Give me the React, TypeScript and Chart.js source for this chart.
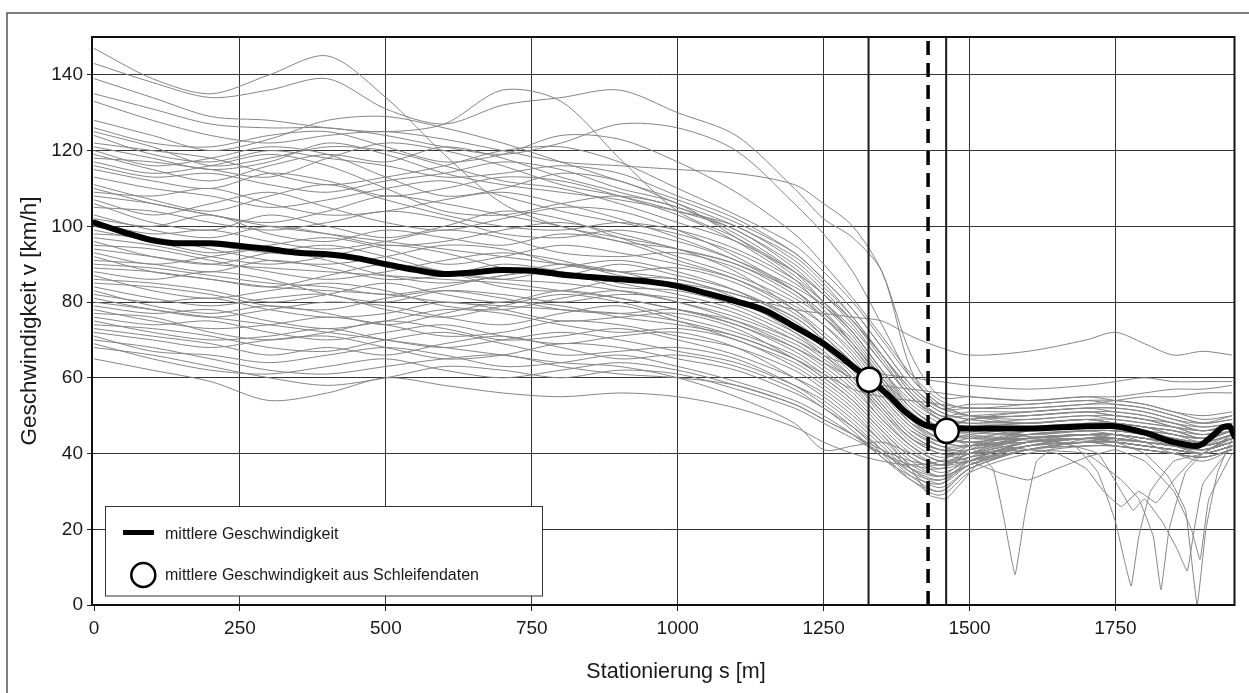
import React, { useEffect, useRef } from "react";
import { Chart, registerables } from "chart.js";

Chart.register(...registerables);

const W = 1249;
const H = 693;

const xTickValues = [0, 250, 500, 750, 1000, 1250, 1500, 1750];
const yTickValues = [0, 20, 40, 60, 80, 100, 120, 140];

const stations = [0, 100, 200, 300, 400, 500, 600, 700, 800, 900, 1000, 1100, 1200, 1250, 1300, 1350, 1400, 1450, 1500, 1600, 1700, 1750, 1800, 1850, 1900, 1950];

const runs: number[][] = [
  [147, 139, 135, 140, 145, 134, 119, 106, 100, 97, 94, 88, 78, 71, 64, 57, 50, 46, 49, 51, 52, 52, 51, 49, 48, 50],
  [143, 138, 134, 136, 139, 131, 127, 132, 134, 136, 130, 124, 110, 102, 97, 88, 62, 52, 52, 52, 53, 53, 52, 50, 48, 49],
  [139, 134, 129, 128, 126, 125, 127, 136, 133, 118, 104, 97, 88, 82, 75, 66, 57, 51, 49, 48, 49, 48, 47, 45, 44, 46],
  [135, 131, 127, 126, 126, 124, 121, 119, 122, 127, 126, 120, 106, 98, 88, 74, 60, 53, 50, 49, 50, 49, 48, 47, 46, 47],
  [133, 128, 124, 122, 124, 125, 123, 120, 117, 116, 115, 114, 111, 106, 100, 88, 66, 55, 55, 54, 55, 54, 53, 51, 50, 51],
  [128, 124, 120, 123, 128, 129, 126, 122, 117, 112, 107, 101, 93, 86, 78, 68, 58, 52, 53, 53, 54, 53, 52, 50, 48, 49],
  [125, 121, 116, 118, 121, 120, 116, 112, 110, 106, 101, 96, 88, 82, 75, 66, 57, 51, 49, 48, 49, 48, 47, 46, 45, 46],
  [122, 120, 118, 114, 111, 113, 116, 120, 121, 117, 110, 103, 95, 88, 80, 70, 60, 53, 50, 48, 49, 48, 47, 45, 44, 46],
  [120, 116, 118, 121, 119, 113, 108, 110, 114, 112, 106, 100, 92, 85, 76, 66, 56, 50, 51, 51, 52, 51, 50, 48, 46, 48],
  [118, 117, 115, 113, 118, 122, 120, 116, 111, 108, 104, 99, 89, 82, 74, 64, 55, 49, 47, 46, 47, 47, 46, 44, 43, 45],
  [117, 114, 116, 119, 116, 110, 104, 103, 106, 108, 105, 98, 88, 80, 72, 62, 53, 48, 46, 45, 46, 46, 45, 43, 42, 44],
  [115, 112, 110, 114, 112, 108, 110, 113, 112, 108, 103, 96, 86, 78, 69, 60, 52, 47, 45, 44, 45, 45, 44, 42, 41, 44],
  [113, 110, 108, 105, 107, 110, 112, 108, 104, 101, 98, 93, 85, 79, 71, 61, 52, 47, 49, 50, 51, 50, 49, 47, 45, 47],
  [111, 107, 104, 108, 111, 107, 103, 100, 99, 101, 99, 94, 86, 80, 73, 64, 55, 49, 47, 45, 46, 46, 45, 44, 43, 45],
  [109, 108, 110, 106, 103, 104, 107, 109, 106, 102, 97, 91, 83, 77, 69, 60, 51, 46, 44, 44, 45, 45, 44, 43, 42, 44],
  [107, 103, 106, 109, 105, 101, 99, 102, 105, 104, 99, 92, 83, 76, 68, 59, 50, 45, 43, 43, 44, 44, 43, 42, 41, 43],
  [105, 104, 101, 99, 101, 104, 102, 98, 97, 99, 96, 91, 84, 79, 72, 62, 52, 47, 49, 50, 51, 50, 49, 48, 46, 48],
  [103, 99, 97, 100, 98, 95, 96, 99, 101, 98, 94, 90, 83, 77, 70, 60, 50, 45, 44, 44, 45, 45, 44, 43, 42, 44],
  [101, 98, 99, 96, 94, 96, 99, 97, 93, 92, 93, 89, 81, 76, 69, 59, 49, 44, 43, 45, 46, 45, 44, 43, 42, 44],
  [99, 96, 93, 95, 97, 94, 90, 92, 95, 93, 90, 86, 79, 74, 67, 57, 48, 43, 42, 43, 44, 44, 43, 42, 41, 43],
  [98, 97, 94, 91, 90, 92, 95, 94, 90, 88, 89, 85, 77, 71, 64, 55, 47, 43, 42, 44, 45, 45, 44, 43, 42, 44],
  [96, 92, 90, 93, 95, 92, 88, 86, 89, 91, 88, 83, 75, 69, 62, 53, 45, 41, 40, 42, 43, 43, 42, 41, 40, 42],
  [95, 94, 91, 88, 86, 88, 91, 93, 91, 87, 85, 82, 76, 70, 63, 54, 46, 42, 42, 44, 45, 44, 43, 42, 41, 43],
  [93, 90, 92, 94, 91, 87, 85, 87, 90, 88, 84, 80, 73, 68, 61, 52, 44, 40, 40, 43, 44, 43, 42, 41, 40, 42],
  [92, 88, 86, 84, 87, 90, 88, 84, 83, 86, 86, 81, 72, 66, 59, 50, 42, 38, 39, 42, 43, 42, 41, 40, 39, 41],
  [90, 89, 87, 85, 84, 82, 84, 87, 88, 85, 82, 78, 71, 66, 60, 52, 44, 40, 40, 43, 44, 44, 43, 42, 41, 43],
  [88, 86, 88, 86, 82, 80, 83, 82, 80, 82, 81, 77, 70, 65, 59, 51, 44, 41, 41, 44, 45, 44, 43, 42, 41, 43],
  [87, 83, 81, 83, 85, 83, 79, 78, 81, 83, 80, 75, 68, 63, 57, 49, 42, 38, 38, 42, 43, 43, 42, 41, 40, 42],
  [85, 84, 82, 79, 78, 81, 83, 81, 78, 77, 78, 74, 67, 62, 56, 48, 41, 37, 38, 41, 43, 42, 41, 40, 38, 41],
  [84, 81, 79, 81, 82, 78, 76, 79, 82, 80, 76, 72, 66, 61, 55, 47, 40, 37, 39, 42, 43, 43, 42, 41, 40, 42],
  [82, 80, 81, 78, 76, 77, 80, 78, 75, 76, 77, 73, 65, 60, 54, 46, 39, 36, 38, 42, 44, 43, 42, 41, 40, 42],
  [81, 78, 76, 78, 80, 79, 76, 74, 77, 79, 75, 70, 64, 59, 53, 45, 38, 34, 37, 41, 42, 42, 41, 40, 39, 41],
  [79, 77, 78, 75, 73, 75, 78, 77, 74, 72, 73, 70, 63, 58, 52, 44, 37, 34, 37, 41, 43, 43, 42, 41, 40, 42],
  [78, 75, 73, 74, 76, 74, 71, 72, 75, 74, 71, 68, 62, 57, 51, 43, 36, 33, 37, 42, 44, 43, 42, 41, 40, 42],
  [76, 74, 75, 72, 70, 72, 74, 71, 69, 71, 72, 68, 60, 55, 49, 42, 35, 31, 36, 41, 43, 43, 42, 41, 40, 42],
  [75, 72, 70, 71, 73, 70, 68, 70, 72, 70, 67, 64, 58, 54, 48, 41, 34, 30, 36, 41, 42, 42, 41, 40, 39, 41],
  [74, 73, 71, 68, 67, 70, 72, 69, 66, 67, 68, 65, 58, 53, 47, 40, 33, 29, 35, 40, 42, 42, 41, 40, 39, 41],
  [72, 70, 68, 70, 71, 68, 65, 66, 69, 68, 65, 62, 56, 52, 46, 39, 33, 30, 36, 41, 43, 43, 42, 41, 40, 42],
  [71, 67, 66, 64, 66, 68, 66, 63, 64, 66, 63, 59, 54, 50, 45, 39, 34, 32, 38, 43, 44, 44, 43, 42, 41, 43],
  [70, 68, 65, 62, 61, 63, 65, 66, 63, 61, 60, 58, 53, 49, 45, 40, 36, 34, 39, 44, 45, 45, 44, 43, 42, 44],
  [68, 66, 63, 60, 58, 60, 63, 62, 60, 62, 61, 57, 52, 48, 44, 40, 37, 36, 40, 45, 46, 46, 45, 44, 43, 45],
  [65, 62, 59, 54, 56, 60, 58, 56, 55, 56, 55, 52, 47, 43, 40, 38, 37, 38, 42, 46, 47, 47, 46, 45, 44, 46],
  [110, 106, 103, 100, 98, 96, 94, 92, 90, 88, 86, 82, 78, 77, 76, 75, 71, 68, 66, 67, 70, 72, 69, 66, 67, 66],
  [100, 97, 95, 93, 92, 90, 88, 86, 85, 83, 80, 76, 70, 66, 63, 61, 60, 59, 58, 57, 58, 59, 60, 59, 59, 59],
  [94, 92, 90, 89, 88, 87, 86, 85, 83, 81, 78, 74, 68, 64, 60, 58, 57, 56, 55, 54, 55, 55, 56, 57, 57, 58],
  [89, 88, 86, 84, 83, 82, 80, 79, 78, 77, 75, 71, 65, 61, 57, 55, 54, 53, 52, 52, 53, 54, 55, 55, 56, 56],
  [80, 78, 76, 74, 72, 70, 68, 66, 64, 63, 60, 55, 48, 41, 42, 43, 40, 37, 40, 44, 45, 45, 44, 43, 42, 44],
  [124, 119, 117, 120, 118, 116, 113, 114, 116, 114, 108, 102, 93, 86, 78, 68, 58, 52, 50, 50, 51, 51, 50, 48, 47, 48],
  [121, 118, 115, 117, 122, 119, 114, 111, 109, 107, 104, 100, 91, 84, 76, 66, 56, 50, 48, 48, 49, 49, 48, 47, 46, 47],
  [119, 115, 112, 116, 119, 117, 121, 118, 113, 109, 105, 99, 90, 83, 75, 65, 55, 50, 50, 51, 52, 52, 51, 49, 47, 48],
  [116, 113, 114, 111, 109, 112, 114, 117, 115, 110, 106, 97, 87, 80, 72, 62, 54, 49, 48, 49, 50, 50, 49, 47, 45, 47],
  [108, 106, 103, 101, 104, 108, 106, 103, 100, 96, 94, 90, 82, 76, 68, 58, 50, 46, 47, 48, 49, 48, 47, 46, 44, 46],
  [106, 101, 99, 103, 100, 97, 100, 104, 102, 97, 92, 87, 80, 74, 66, 56, 48, 44, 45, 47, 48, 48, 47, 46, 44, 46],
  [102, 100, 103, 98, 96, 99, 97, 95, 98, 96, 91, 86, 78, 72, 65, 55, 47, 43, 44, 46, 47, 47, 46, 45, 43, 45],
  [97, 95, 92, 90, 92, 95, 93, 89, 87, 90, 87, 83, 76, 70, 63, 53, 45, 41, 42, 45, 46, 46, 45, 44, 42, 44],
  [91, 90, 88, 91, 89, 86, 87, 90, 88, 84, 83, 79, 72, 67, 60, 51, 43, 39, 41, 44, 45, 45, 44, 43, 41, 43],
  [86, 85, 83, 80, 82, 85, 82, 80, 83, 81, 78, 75, 69, 64, 58, 49, 42, 38, 40, 44, 45, 45, 44, 43, 41, 43],
  [83, 79, 77, 79, 77, 74, 77, 80, 79, 76, 74, 71, 65, 60, 54, 46, 39, 35, 38, 43, 44, 44, 43, 42, 40, 42],
  [77, 76, 72, 70, 72, 75, 73, 70, 71, 73, 70, 66, 60, 56, 50, 43, 36, 32, 37, 42, 44, 44, 43, 42, 40, 42],
  [73, 71, 69, 66, 68, 66, 69, 71, 68, 65, 66, 63, 57, 52, 47, 41, 35, 33, 38, 43, 45, 45, 44, 43, 41, 43],
  [69, 65, 62, 61, 63, 65, 62, 60, 62, 64, 62, 58, 53, 49, 45, 41, 38, 37, 41, 46, 48, 48, 47, 46, 44, 46],
  [126, 122, 121, 124, 125, 121, 117, 119, 124, 123, 117, 109, 98, 90, 81, 71, 61, 54, 52, 53, 54, 54, 53, 51, 49, 50],
];

// partial runs with sharp speed drops near the end of the section: [station, speed]
const dipRuns: number[][][] = [
  [[1400, 50], [1450, 45], [1500, 42], [1540, 36], [1560, 22], [1578, 8], [1595, 24], [1615, 38], [1650, 42], [1700, 44], [1750, 45], [1800, 43], [1850, 40], [1900, 43], [1950, 46]],
  [[1400, 48], [1450, 44], [1500, 43], [1600, 44], [1680, 42], [1720, 35], [1750, 22], [1765, 12], [1777, 5], [1790, 18], [1810, 30], [1850, 38], [1900, 40], [1950, 45]],
  [[1400, 46], [1450, 42], [1500, 40], [1600, 41], [1700, 40], [1760, 33], [1790, 28], [1815, 18], [1828, 4], [1842, 20], [1870, 35], [1900, 40], [1950, 44]],
  [[1450, 45], [1550, 44], [1650, 43], [1720, 40], [1760, 30], [1780, 25], [1800, 28], [1830, 22], [1855, 15], [1873, 9], [1885, 20], [1900, 32], [1950, 42]],
  [[1450, 46], [1550, 45], [1650, 44], [1750, 43], [1800, 40], [1840, 34], [1870, 25], [1890, 0], [1905, 20], [1925, 35], [1950, 44]],
  [[1450, 44], [1550, 42], [1650, 40], [1700, 36], [1730, 30], [1760, 26], [1790, 30], [1820, 27], [1850, 33], [1880, 38], [1920, 42], [1950, 45]],
  [[1450, 40], [1500, 38], [1550, 35], [1600, 33], [1650, 36], [1700, 39], [1750, 41], [1800, 38], [1850, 30], [1880, 20], [1895, 12], [1910, 28], [1950, 40]],
  [[1350, 45], [1400, 36], [1430, 29], [1460, 28], [1490, 33], [1530, 40], [1600, 43], [1700, 44], [1800, 43], [1900, 42], [1950, 45]],
];

const meanStations = [0, 50, 100, 150, 200, 250, 300, 350, 400, 450, 500, 550, 600, 650, 700, 750, 800, 850, 900, 950, 1000, 1050, 1100, 1150, 1200, 1250, 1280, 1300, 1330, 1360, 1390, 1420, 1445, 1470, 1500, 1600, 1700, 1740, 1800, 1850, 1890, 1915, 1935, 1945, 1954];
const meanSpeeds = [101, 98.5, 96.3, 95.5, 95.5, 94.8, 94, 93, 92.6, 91.6, 90, 88.5, 87.4, 87.8, 88.5, 88.3, 87.3, 86.6, 86, 85.4, 84.2, 82.3, 80.2, 77.8, 73.5, 69, 65.5, 63, 59.4, 55.5, 51, 47.8, 46.8, 46.6, 46.6, 46.6, 47.2, 47.3, 45.5, 43, 42, 44.5, 47, 47.2, 44.5];

const loopStations = [1328, 1461];
const loopSpeeds = [59.5, 46];

const solidMarkers = [1327, 1460];
const dashedMarker = 1429;

const FONT = '"Liberation Sans", Arial, Helvetica, sans-serif';

export default function App() {
  const ref = useRef<HTMLCanvasElement | null>(null);

  useEffect(() => {
    const canvas = ref.current;
    if (!canvas) return;

    const grey = "#868686";
    const datasets: any[] = [];

    datasets.push({
      label: "mittlere Geschwindigkeit aus Schleifendaten",
      data: loopStations.map((s, i) => ({ x: s, y: loopSpeeds[i] })),
      showLine: false,
      pointRadius: 12,
      pointBorderWidth: 2.5,
      pointBackgroundColor: "#ffffff",
      pointBorderColor: "#000000",
      order: 0,
    });
    datasets.push({
      label: "mittlere Geschwindigkeit",
      data: meanStations.map((s, i) => ({ x: s, y: meanSpeeds[i] })),
      borderColor: "#000000",
      borderWidth: 6,
      pointRadius: 0,
      cubicInterpolationMode: "monotone",
      borderCapStyle: "round",
      borderJoinStyle: "round",
      order: 1,
    });
    datasets.push({
      label: "marker dashed",
      data: [{ x: dashedMarker, y: 0 }, { x: dashedMarker, y: 150 }],
      borderColor: "#000000",
      borderWidth: 3.5,
      borderDash: [14, 8],
      pointRadius: 0,
      order: 2,
    });
    solidMarkers.forEach((s) => {
      datasets.push({
        label: "marker",
        data: [{ x: s, y: 0 }, { x: s, y: 150 }],
        borderColor: "#1a1a1a",
        borderWidth: 2,
        pointRadius: 0,
        order: 2,
      });
    });
    runs.forEach((r, k) => {
      datasets.push({
        label: "run " + (k + 1),
        data: stations.map((s, i) => ({ x: s, y: r[i] })),
        borderColor: grey,
        borderWidth: 1,
        pointRadius: 0,
        tension: 0.3,
        order: 3,
      });
    });
    dipRuns.forEach((r, k) => {
      datasets.push({
        label: "dip run " + (k + 1),
        data: r.map((p) => ({ x: p[0], y: p[1] })),
        borderColor: grey,
        borderWidth: 1,
        pointRadius: 0,
        tension: 0.1,
        order: 3,
      });
    });

    const decor = {
      id: "decor",
      beforeDraw(chart: any) {
        const ctx = chart.ctx;
        ctx.save();
        ctx.fillStyle = "#ffffff";
        ctx.fillRect(0, 0, W, H);
        ctx.strokeStyle = "#555555";
        ctx.lineWidth = 1.5;
        ctx.beginPath();
        ctx.moveTo(7, H);
        ctx.lineTo(7, 13);
        ctx.lineTo(W, 13);
        ctx.stroke();
        ctx.restore();
      },
      afterDatasetsDraw(chart: any) {
        const { ctx, chartArea: a } = chart;
        ctx.save();
        ctx.strokeStyle = "#111111";
        ctx.lineWidth = 2;
        ctx.strokeRect(a.left, a.top, a.right - a.left, a.bottom - a.top);

        // legend box
        const lx = a.left + 13.5;
        const ly = a.bottom - 98.5;
        const lw = 437;
        const lh = 89.5;
        ctx.fillStyle = "#ffffff";
        ctx.fillRect(lx, ly, lw, lh);
        ctx.strokeStyle = "#333333";
        ctx.lineWidth = 1;
        ctx.strokeRect(lx, ly, lw, lh);

        ctx.fillStyle = "#000000";
        ctx.fillRect(lx + 17.5, ly + 23.5, 31, 5);
        ctx.beginPath();
        ctx.arc(lx + 37.8, ly + 68.5, 12, 0, Math.PI * 2);
        ctx.fillStyle = "#ffffff";
        ctx.fill();
        ctx.lineWidth = 2.5;
        ctx.strokeStyle = "#000000";
        ctx.stroke();

        ctx.fillStyle = "#1a1a1a";
        ctx.font = "16px " + FONT;
        ctx.textBaseline = "middle";
        ctx.textAlign = "left";
        ctx.fillText("mittlere Geschwindigkeit", lx + 59.5, ly + 28);
        ctx.fillText("mittlere Geschwindigkeit aus Schleifendaten", lx + 59.5, ly + 69);

        // x axis title
        ctx.font = "21.5px " + FONT;
        ctx.textAlign = "center";
        ctx.fillText("Stationierung s [m]", 676, 672);
        ctx.restore();
      },
    };

    const chart = new Chart(canvas, {
      type: "line",
      data: { datasets },
      plugins: [decor],
      options: {
        animation: false,
        responsive: false,
        events: [],
        layout: { padding: { left: 0, top: 37, right: 14, bottom: 0 } },
        plugins: {
          legend: { display: false },
          tooltip: { enabled: false },
        },
        scales: {
          x: {
            type: "linear",
            min: -3.5,
            max: 1954,
            afterBuildTicks: (scale: any) => {
              scale.ticks = xTickValues.map((v) => ({ value: v }));
            },
            afterFit: (scale: any) => {
              scale.height = H - 605;
            },
            border: { display: false },
            grid: {
              color: (c: any) => (c.tick && c.tick.value === 0 ? "rgba(0,0,0,0)" : "#333333"),
              lineWidth: 1,
              tickLength: 6,
              tickColor: "#222222",
            },
            ticks: {
              padding: 6,
              color: "#1a1a1a",
              font: { family: FONT, size: 19 },
              maxRotation: 0,
              callback: (v: any) => String(v),
            },
          },
          y: {
            type: "linear",
            min: 0,
            max: 150,
            afterBuildTicks: (scale: any) => {
              scale.ticks = yTickValues.map((v) => ({ value: v }));
            },
            afterFit: (scale: any) => {
              scale.width = 92;
            },
            border: { display: false },
            grid: {
              color: (c: any) => (c.tick && c.tick.value === 0 ? "rgba(0,0,0,0)" : "#333333"),
              lineWidth: 1,
              tickLength: 5,
              tickColor: "#222222",
            },
            ticks: {
              padding: 4,
              color: "#1a1a1a",
              font: { family: FONT, size: 19 },
              callback: (v: any) => String(v),
            },
            title: {
              display: true,
              text: "Geschwindigkeit v [km/h]",
              color: "#1a1a1a",
              font: { family: FONT, size: 22.5 },
              padding: { top: 16.5, bottom: 0 },
            },
          },
        },
      },
    } as any);

    return () => chart.destroy();
  }, []);

  return (
    <div style={{ position: "fixed", left: 0, top: 0, width: W, height: H, background: "#fff" }}>
      <canvas ref={ref} width={W} height={H} style={{ display: "block", width: W, height: H }} />
    </div>
  );
}
